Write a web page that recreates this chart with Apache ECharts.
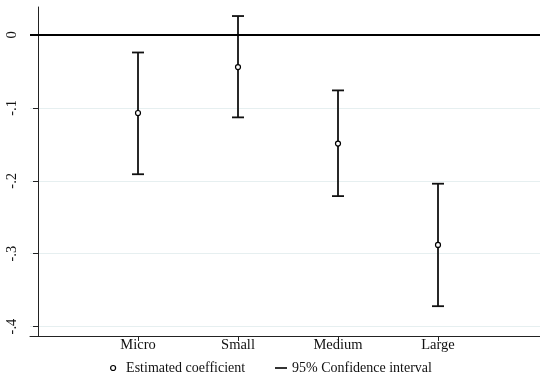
<!DOCTYPE html>
<html>
<head>
<meta charset="utf-8">
<script src="https://cdn.jsdelivr.net/npm/echarts@6/dist/echarts.min.js"></script>
<style>
  html, body { margin: 0; padding: 0; background: #fff; }
  #chart { width: 540px; height: 382px; }
</style>
</head>
<body>
<div id="chart"></div>
<script>
// 企业规模分组
var categories = ['Micro', 'Small', 'Medium', 'Large'];
// 估计系数及 95% 置信区间
var coef  = [-0.107, -0.044, -0.149, -0.288];
var lower = [-0.191, -0.113, -0.221, -0.372];
var upper = [-0.024,  0.026, -0.076, -0.204];
// y 轴刻度
var yTicks = [0, -0.1, -0.2, -0.3, -0.4];
var xTicks = [1, 2, 3, 4];

var serif = 'Liberation Serif';

var pointData = coef.map(function (v, i) { return [i + 1, v]; });
var ciData = coef.map(function (v, i) { return [i + 1, lower[i], upper[i]]; });

var chart = echarts.init(document.getElementById('chart'));

var option = {
  animation: false,
  backgroundColor: '#fff',
  grid: { left: 30, right: 0, top: 7, bottom: 46 },
  xAxis: {
    type: 'value',
    min: -0.08,
    max: 5.02,
    axisLine: { show: true, onZero: false, lineStyle: { color: '#222', width: 1 } },
    axisTick: { show: true, customValues: xTicks, length: 5, lineStyle: { color: '#222' } },
    axisLabel: {
      customValues: xTicks,
      margin: 2,
      fontFamily: serif,
      fontSize: 14.5,
      color: '#111',
      formatter: function (v) { return categories[Math.round(v) - 1] || ''; }
    },
    splitLine: { show: false }
  },
  yAxis: {
    type: 'value',
    min: -0.4129,
    max: 0.0384,
    axisLine: { show: true, lineStyle: { color: '#222', width: 1 } },
    axisTick: { show: true, customValues: yTicks, length: 5, lineStyle: { color: '#222' } },
    axisLabel: {
      customValues: yTicks,
      rotate: 90,
      margin: 10,
      fontFamily: serif,
      fontSize: 14.5,
      color: '#111',
      formatter: function (v) {
        if (Math.abs(v) < 1e-9) return '0';
        return v.toFixed(1).replace('0.', '.');
      }
    },
    splitLine: { show: true, lineStyle: { color: '#e6eff0', width: 1 } }
  },
  legend: [
    {
      data: ['Estimated coefficient'],
      left: 105, bottom: 2,
      icon: 'circle',
      itemWidth: 16, itemHeight: 5,
      itemStyle: { color: '#fff', borderColor: '#000', borderWidth: 1.2 },
      textStyle: { fontFamily: serif, fontSize: 14, color: '#111' }
    },
    {
      data: ['95% Confidence interval'],
      left: 270, bottom: 2,
      icon: 'rect',
      itemWidth: 12, itemHeight: 1.6,
      itemStyle: { color: '#000' },
      textStyle: { fontFamily: serif, fontSize: 14, color: '#111' }
    }
  ],
  series: [
    {
      name: '95% Confidence interval',
      type: 'custom',
      data: ciData,
      encode: { x: 0, y: [1, 2] },
      itemStyle: { color: '#000' },
      renderItem: function (params, api) {
        var x = api.value(0);
        var lo = api.coord([x, api.value(1)]);
        var hi = api.coord([x, api.value(2)]);
        var half = 6;
        var style = { stroke: '#111', lineWidth: 1.8, fill: null };
        return {
          type: 'group',
          children: [
            { type: 'line', shape: { x1: lo[0], y1: lo[1], x2: hi[0], y2: hi[1] }, style: style },
            { type: 'line', shape: { x1: lo[0] - half, y1: lo[1], x2: lo[0] + half, y2: lo[1] }, style: style },
            { type: 'line', shape: { x1: hi[0] - half, y1: hi[1], x2: hi[0] + half, y2: hi[1] }, style: style }
          ]
        };
      },
      z: 2
    },
    {
      name: 'Estimated coefficient',
      type: 'scatter',
      data: pointData,
      symbol: 'circle',
      symbolSize: 5,
      itemStyle: { color: '#fff', borderColor: '#000', borderWidth: 1.2, opacity: 1 },
      z: 3,
      markLine: {
        silent: true,
        symbol: 'none',
        label: { show: false },
        lineStyle: { color: '#000', width: 1.8, type: 'solid' },
        data: [{ yAxis: 0 }]
      }
    }
  ]
};

chart.setOption(option, true);
</script>
</body>
</html>
